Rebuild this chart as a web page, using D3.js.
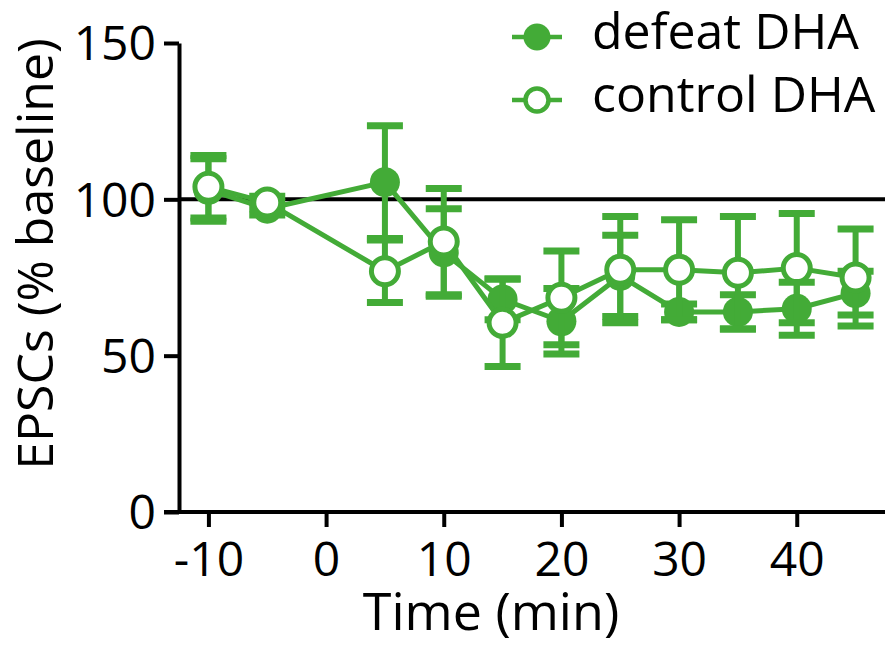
<!DOCTYPE html>
<html>
<head>
<meta charset="utf-8">
<script src="https://cdn.jsdelivr.net/npm/d3@7"></script>
<style>
  html, body { margin: 0; padding: 0; background: #fff; }
  svg { display: block; }
  text { font-family: "Open Sans", "DejaVu Sans", sans-serif; fill: #000; }
</style>
</head>
<body>
<div id="chart"></div>
<script>
// values (EPSCs, % of baseline, mean and SEM)
const times = [-10, -5, 5, 10, 15, 20, 25, 30, 35, 40, 45];
const defeatMean = [103, 97, 105.5, 83, 68, 61, 75.5, 64, 64, 65, 70];
const defeatSem = [10, 2, 18, 14, 6.5, 10.5, 13, 2.5, 5.5, 8.5, 7];
const controlMean = [104, 99, 77, 86.5, 60.5, 68.5, 77.5, 77.5, 76.5, 78, 75];
const controlSem = [10, 2, 10, 17, 14, 15, 17, 16, 18, 17.5, 15.5];
const xTicks = [-10, 0, 10, 20, 30, 40];
const yTicks = [0, 50, 100, 150];
const baseline = 100;

const width = 889, height = 646;
const green = "#43ab37";

const svg = d3.select("#chart").append("svg")
  .attr("width", width)
  .attr("height", height);

const x = d3.scaleLinear().domain([-12.5, 47.5]).range([179, 885]);
const y = d3.scaleLinear().domain([0, 150]).range([512, 43]);

// axes (plain hyphen for negative ticks, like the original)
const xAxis = svg.append("g")
  .attr("transform", `translate(0, ${y(0)})`)
  .call(d3.axisBottom(x).tickValues(xTicks).tickFormat(d => String(d))
    .tickSize(15).tickSizeOuter(0).tickPadding(15));
xAxis.select(".domain").attr("d", `M${x.range()[0] - 15},0H${x.range()[1]}`);

const yAxis = svg.append("g")
  .attr("transform", `translate(${x.range()[0]}, 0)`)
  .call(d3.axisLeft(y).tickValues(yTicks).tickFormat(d => String(d))
    .tickSize(15).tickSizeOuter(0).tickPadding(8));

[xAxis, yAxis].forEach(g => {
  g.selectAll(".domain, .tick line").attr("stroke", "#000").attr("stroke-width", 4);
  g.selectAll(".tick text")
    .style("font-size", "48px")
    .attr("fill", "#000")
    .style("font-family", "'Open Sans', sans-serif");
});
xAxis.selectAll(".tick text").attr("dy", "0.71em");
yAxis.selectAll(".tick text").attr("dy", "0.35em");

// axis titles
svg.append("text")
  .attr("x", 491)
  .attr("y", 630)
  .attr("text-anchor", "middle")
  .style("font-size", "52px")
  .text("Time (min)");

svg.append("text")
  .attr("transform", `translate(53, 254) rotate(-90)`)
  .attr("text-anchor", "middle")
  .style("font-size", "50px")
  .text("EPSCs (% baseline)");

// baseline reference at 100 %
svg.append("line")
  .attr("x1", x.range()[0]).attr("x2", x.range()[1])
  .attr("y1", y(baseline)).attr("y2", y(baseline))
  .attr("stroke", "#000")
  .attr("stroke-width", 4);

const series = [
  { name: "defeat DHA", mean: defeatMean, sem: defeatSem, open: false },
  { name: "control DHA", mean: controlMean, sem: controlSem, open: true }
];

const line = d3.line().x(d => x(d.t)).y(d => y(d.m));
const capW = 36;

series.forEach(s => {
  const pts = times.map((t, i) => ({ t, m: s.mean[i], e: s.sem[i] }));
  const g = svg.append("g");

  const err = g.selectAll("g.err").data(pts).enter().append("g").attr("class", "err");
  err.append("line")
    .attr("x1", d => x(d.t)).attr("x2", d => x(d.t))
    .attr("y1", d => y(d.m - d.e)).attr("y2", d => y(d.m + d.e))
    .attr("stroke", green).attr("stroke-width", 6);
  [1, -1].forEach(sign => {
    err.append("line")
      .attr("x1", d => x(d.t) - capW / 2).attr("x2", d => x(d.t) + capW / 2)
      .attr("y1", d => y(d.m + sign * d.e)).attr("y2", d => y(d.m + sign * d.e))
      .attr("stroke", green).attr("stroke-width", 7);
  });

  g.append("path")
    .datum(pts)
    .attr("d", line)
    .attr("fill", "none")
    .attr("stroke", green)
    .attr("stroke-width", 5)
    .attr("stroke-linejoin", "round");

  g.selectAll("circle").data(pts).enter().append("circle")
    .attr("cx", d => x(d.t))
    .attr("cy", d => y(d.m))
    .attr("r", s.open ? 13.5 : 15)
    .attr("fill", s.open ? "#fff" : green)
    .attr("stroke", s.open ? green : "none")
    .attr("stroke-width", 5);
});

// legend
const legend = svg.append("g");
series.forEach((s, i) => {
  const ly = 37 + i * 63;
  legend.append("line")
    .attr("x1", 512).attr("x2", 562)
    .attr("y1", ly).attr("y2", ly)
    .attr("stroke", green).attr("stroke-width", 4.5);
  legend.append("circle")
    .attr("cx", 537).attr("cy", ly)
    .attr("r", s.open ? 11.5 : 13.5)
    .attr("fill", s.open ? "#fff" : green)
    .attr("stroke", s.open ? green : "none")
    .attr("stroke-width", 4.5);
  legend.append("text")
    .attr("x", 592)
    .attr("y", ly + 12)
    .style("font-size", "50px")
    .text(s.name);
});
</script>
</body>
</html>
